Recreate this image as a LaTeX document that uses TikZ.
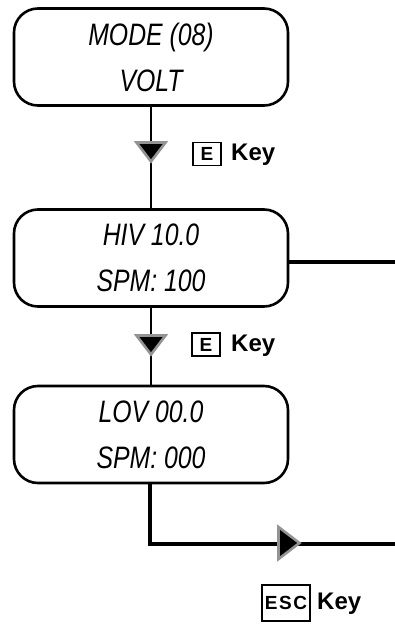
\documentclass[tikz,border=0pt]{standalone}
\usepackage{fontspec}
\setmainfont{Liberation Sans}
\newfontfamily\lcdfont[FakeStretch=0.8]{Liberation Sans}
\tikzset{
  lcdbox/.style={draw, line width=2.6pt, rounded corners=24pt, minimum width=274pt,
    minimum height=97pt, align=center, inner sep=0pt,
    font=\lcdfont\itshape\fontsize{31}{46}\selectfont},
  flow/.style={line width=2.8pt},
  thickflow/.style={line width=4.2pt},
  marker/.style={fill=black, draw=gray!85, line width=2.6pt},
  downtri/.pic={\filldraw[marker] (-14.5,-9.5) -- (14.5,-9.5) -- (0,9.5) -- cycle;},
  righttri/.pic={\filldraw[marker] (-10.5,-16) -- (10.5,0) -- (-10.5,16) -- cycle;},
  keybox/.style={draw, line width=1.8pt, inner sep=0pt, minimum width=28pt, minimum height=23pt,
    font=\bfseries\fontsize{19}{19}\selectfont},
  keylabel/.style={inner sep=0pt, anchor=west, font=\bfseries\fontsize{24}{24}\selectfont}
}
\begin{document}
\begin{tikzpicture}[x=1pt,y=-1pt]
\useasboundingbox (0,0) rectangle (395,624);
\node[lcdbox] (b1) at (151,57) {MODE (08)\\VOLT};
\node[lcdbox] (b2) at (151,258) {HIV 10.0\\SPM: 100};
\node[lcdbox] (b3) at (151,434.5) {LOV 00.0\\SPM: 000};
\draw[flow] (b1) -- (b2);
\draw[flow] (b2) -- (b3);
\pic at (151,152) {downtri};
\pic at (151,345) {downtri};
\coordinate (r2) at (395,262);
\draw[thickflow] (b2.east |- r2) -- (r2);
\coordinate (c3) at (150,544);
\coordinate (r3) at (395,544);
\draw[thickflow] (b3.south -| c3) -- (c3) -- (r3);
\pic at (289,543) {righttri};
\node[keybox] (e1) at (207,154) {E};
\node[keylabel] (k1) at (231,155) {Key};
\node[keybox] (e2) at (206,344.5) {E};
\node[keylabel] (k2) at (231,345.5) {Key};
\node[keybox, line width=2.2pt, minimum width=48pt, minimum height=36pt, font=\bfseries\fontsize{19}{19}\selectfont] (esc) at (286,603) {E\hspace{1.5pt}S\hspace{1.5pt}C};
\node[keylabel] (k3) at (317,604) {Key};
\end{tikzpicture}
\end{document}
